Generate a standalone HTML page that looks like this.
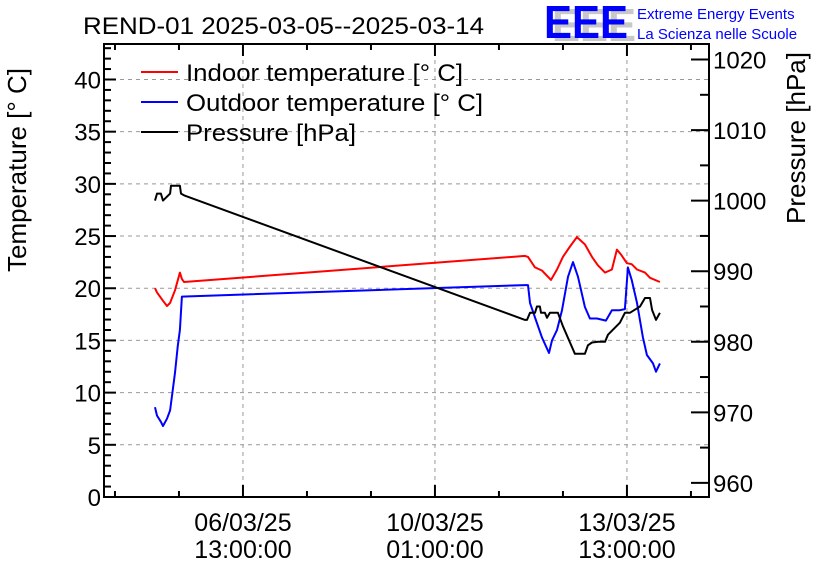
<!DOCTYPE html>
<html><head><meta charset="utf-8"><style>
body{margin:0;background:#fff;}
svg{display:block;font-family:"Liberation Sans",sans-serif;}
</style></head><body>
<svg id="chart" width="836" height="572" viewBox="0 0 836 572">
<rect width="836" height="572" fill="#fff"/>
<text x="83" y="34" font-size="24" textLength="401" lengthAdjust="spacingAndGlyphs">REND-01 2025-03-05--2025-03-14</text>
<g>
<text x="552" y="41" font-size="46" font-weight="bold" fill="#c8c8c8" textLength="84" lengthAdjust="spacingAndGlyphs">EEE</text>
<text x="544" y="38" font-size="46" font-weight="bold" fill="#0000ff" textLength="84" lengthAdjust="spacingAndGlyphs">EEE</text>
<text x="637" y="19" font-size="15" fill="#0000ff">Extreme Energy Events</text>
<text x="637" y="39" font-size="15" fill="#0000ff">La Scienza nelle Scuole</text>
</g>
<g id="grid"></g>
<g id="series"></g>
<g id="axes"></g>
<text transform="translate(26,170) rotate(-90)" text-anchor="middle" font-size="26">Temperature [° C]</text>
<text transform="translate(805,138) rotate(-90)" text-anchor="middle" font-size="26">Pressure [hPa]</text>
<g>
<g><line x1="141" y1="72" x2="178" y2="72" stroke="#ff0000" stroke-width="2"/><text x="186" y="81" font-size="24" textLength="277" lengthAdjust="spacingAndGlyphs">Indoor temperature [° C]</text></g>
<g><line x1="141" y1="102" x2="178" y2="102" stroke="#0000ff" stroke-width="2"/><text x="186" y="111" font-size="24" textLength="297" lengthAdjust="spacingAndGlyphs">Outdoor temperature [° C]</text></g>
<g><line x1="141" y1="132" x2="178" y2="132" stroke="#000" stroke-width="2"/><text x="186" y="141" font-size="24" textLength="170" lengthAdjust="spacingAndGlyphs">Pressure [hPa]</text></g>
</g>
</svg>
<script>
// time in hours relative to 06/03/25 13:00
const indoorT=[-38.5,-37.6,-35,-33.25,-31.9,-29.75,-27.6,-26.7,-25.8,123.4,124.7,127.75,130.8,134.75,137.4,140,143.1,146.1,149.6,152.7,155.3,158.4,161.4,163.6,165.5,168,170.1,172.4,175.9,178.1,182.4];
const indoorV=[20.0,19.6,18.8,18.3,18.6,19.8,21.5,20.9,20.6,23.1,23.0,22.0,21.7,20.8,21.8,23.0,24.0,24.9,24.2,23.0,22.2,21.5,21.8,23.7,23.2,22.4,22.3,21.8,21.5,21.0,20.6];
const outdoorT=[-38.5,-37.6,-35.9,-35,-33.25,-31.9,-29.75,-28.5,-27.6,-26.7,123.4,124.7,125.6,127.75,130.8,133.9,135.2,137.4,139.6,142.2,144.4,146.6,149.6,151.8,154.9,158.8,161.4,164.9,167.1,168.4,170.1,172.4,175,176.75,179.4,180.7,182.4];
const outdoorV=[8.6,7.8,7.2,6.8,7.5,8.3,11.9,14.5,16.0,19.2,20.3,20.3,18.6,17.2,15.3,13.8,15.0,16.0,17.9,21.1,22.5,21.1,18.2,17.1,17.1,16.9,17.9,17.9,18.0,22.0,20.8,18.6,15.3,13.6,12.8,12.0,12.8];
const pressT=[-38.5,-37.6,-35.9,-35,-31.9,-31.5,-27.6,-27.1,-25.4,123.4,124.25,125.6,127.75,128.6,129.9,130.4,132.1,133,134.3,137.8,140,143.1,145.25,149.6,150.9,152.7,155.3,158.4,159.7,164.9,167.1,169.3,173.7,175.9,178.1,179,180.7,182.4];
const pressV=[1000.0,1001.0,1001.0,1000.0,1001.0,1002.1,1002.1,1001.0,1000.7,983.1,983.1,984.1,984.1,985.0,985.0,984.1,984.1,983.4,984.1,984.1,982.2,979.9,978.3,978.3,979.5,979.9,980.0,980.0,981.0,982.7,984.1,984.1,985.0,986.2,986.2,984.5,983.1,984.1];
const xTickHours=[0,84,168];
const xTickDates=["06/03/25","10/03/25","13/03/25"];
const xTickTimes=["13:00:00","01:00:00","13:00:00"];
const tTicks=[0,5,10,15,20,25,30,35,40];
const pTicks=[960,970,980,990,1000,1010,1020];

const L=104,R=709,T=44,B=497;
const X0=-60.8,X1=203.9,TMIN=0,TMAX=43.4,PMIN=958.0,PMAX=1022.2;
const xs=t=>L+(t-X0)/(X1-X0)*(R-L);
const yT=v=>B-(v-TMIN)/(TMAX-TMIN)*(B-T);
const yP=v=>B-(v-PMIN)/(PMAX-PMIN)*(B-T);
const NS="http://www.w3.org/2000/svg";
function mk(tag,attrs,parent){const e=document.createElementNS(NS,tag);for(const k in attrs)e.setAttribute(k,attrs[k]);parent.appendChild(e);return e;}
const grid=document.getElementById('grid'),axes=document.getElementById('axes'),series=document.getElementById('series');

tTicks.forEach(v=>{const l=mk('line',{x1:L,x2:R,y1:yT(v),y2:yT(v),stroke:'#999','stroke-dasharray':'4,4','stroke-width':1},grid);

});
xTickHours.forEach(h=>{const l=mk('line',{x1:xs(h),x2:xs(h),y1:T,y2:B,stroke:'#999','stroke-dasharray':'4,4','stroke-width':1},grid);

});

function drawSeries(ts,vs,yf,color,name){
 let d='';ts.forEach((t,i)=>{d+=(i?'L':'M')+xs(t).toFixed(1)+','+yf(vs[i]).toFixed(1);});
 const p=mk('path',{d:d,fill:'none',stroke:color,'stroke-width':2,'stroke-linejoin':'round'},series);
 
 
}
drawSeries(indoorT,indoorV,yT,'#ff0000','indoor-temperature-line');
drawSeries(outdoorT,outdoorV,yT,'#0000ff','outdoor-temperature-line');
drawSeries(pressT,pressV,yP,'#000000','pressure-line');

const frame=mk('rect',{x:L,y:T,width:R-L,height:B-T,fill:'none',stroke:'#000','stroke-width':2},axes);


for(let v=0;v<=43;v++){const len=v%5===0?12:7;mk('line',{x1:L,x2:L+len,y1:yT(v),y2:yT(v),stroke:'#000','stroke-width':2},axes);}
tTicks.forEach(v=>{const t=mk('text',{x:L-3,y:yT(v)+9,'text-anchor':'end','font-size':24},axes);t.textContent=v;

});
for(let v=960;v<=1020;v+=5){const len=v%10===0?18:9;mk('line',{x1:R,x2:R-len,y1:yP(v),y2:yP(v),stroke:'#000','stroke-width':2},axes);}
pTicks.forEach(v=>{const t=mk('text',{x:R+4,y:yP(v)+9,'font-size':24},axes);t.textContent=v;

});
for(let h=-56;h<=200;h+=28){const major=(h%84===0);const len=major?12:6;
 mk('line',{x1:xs(h),x2:xs(h),y1:B,y2:B-len,stroke:'#000','stroke-width':2},axes);
 mk('line',{x1:xs(h),x2:xs(h),y1:T,y2:T+len,stroke:'#000','stroke-width':2},axes);}
xTickHours.forEach((h,i)=>{
 const a=mk('text',{x:xs(h),y:531,'text-anchor':'middle','font-size':25},axes);a.textContent=xTickDates[i];
 
 
 const b=mk('text',{x:xs(h),y:558,'text-anchor':'middle','font-size':25},axes);b.textContent=xTickTimes[i];
 
 
});
</script>
</body></html>
